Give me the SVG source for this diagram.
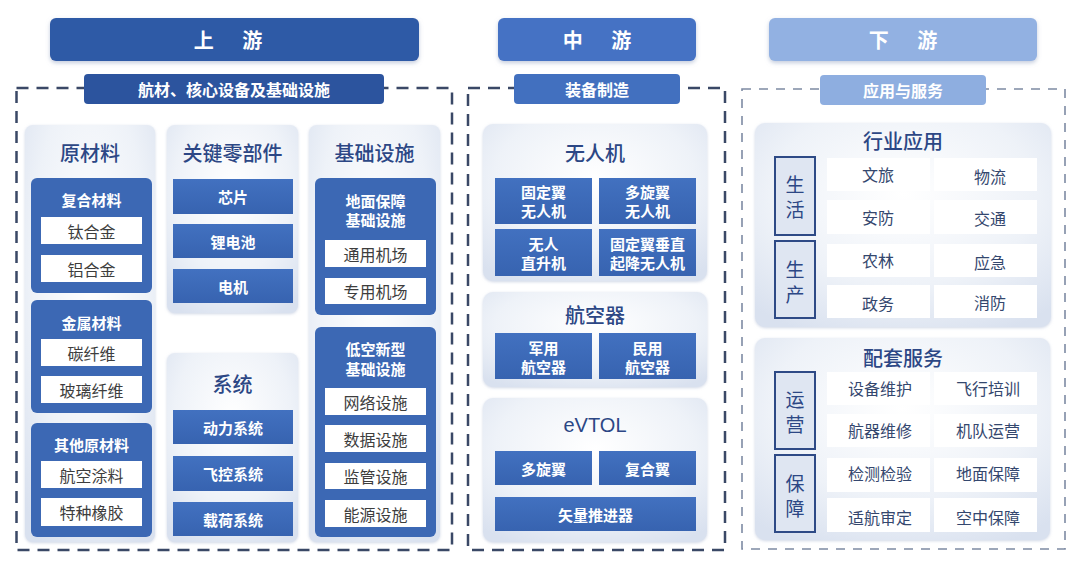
<svg xmlns="http://www.w3.org/2000/svg" width="1080" height="565" viewBox="0 0 1080 565">
<defs>
<radialGradient id="pg" cx="0.5" cy="0.35" r="0.75">
<stop offset="0" stop-color="#ffffff"/>
<stop offset="0.6" stop-color="#eef2f8"/>
<stop offset="1" stop-color="#d9e1ef"/>
</radialGradient>
<linearGradient id="bg" x1="0" y1="0" x2="0" y2="1">
<stop offset="0" stop-color="#4271c0"/>
<stop offset="1" stop-color="#3763b0"/>
</linearGradient>
<filter id="sh" x="-10%" y="-20%" width="120%" height="160%">
<feDropShadow dx="0" dy="2" stdDeviation="2" flood-color="#8899bb" flood-opacity="0.5"/>
</filter>
<filter id="psh" x="-10%" y="-10%" width="120%" height="120%">
<feDropShadow dx="0" dy="1" stdDeviation="1.5" flood-color="#b0bdd6" flood-opacity="0.6"/>
</filter>
</defs>
<style>
text{font-family:"Noto Sans CJK SC","Noto Sans",sans-serif;text-anchor:middle;dominant-baseline:central}
.hd{fill:#fff;font-size:20px;font-weight:700;word-spacing:24px}
.sub{fill:#fff;font-size:16px;font-weight:700}
.panel{fill:url(#pg);filter:url(#psh)}
.pt{fill:#2c4785;font-size:20px;font-weight:500}
.box{fill:#3c68b4}
.bar{fill:url(#bg)}
.wb{fill:#ffffff}
.bt{fill:#fff;font-size:15px;font-weight:700}
.bt2{fill:#fff;font-size:15px;font-weight:700}
.wt{fill:#3d3d3d;font-size:16px}
.lb{fill:#dfe6f2;stroke:#2e4a86;stroke-width:2}
.lt{fill:#2c4785;font-size:19px}
.rt{fill:#34476e;font-size:16px}
.dash{fill:none;stroke:#3a4866;stroke-width:2.5;stroke-dasharray:12 8}
.dash2{fill:none;stroke:#7d8aa3;stroke-width:1.6;stroke-dasharray:9 8}
</style>
<rect width="1080" height="565" fill="#ffffff"/>

<g id="frames">
<rect class="dash" x="16.5" y="88" width="435.5" height="462"/>
<rect class="dash" x="468" y="88" width="257" height="462"/>
<rect class="dash2" x="742" y="89" width="323" height="460"/>
</g>

<g id="connectors"></g>

<g id="hdr-up">
<rect x="50" y="18" width="369" height="43" rx="6" fill="#2f5aa6" filter="url(#sh)"/>
<text class="hd" x="228" y="39.5">上 游</text>
</g>
<g id="hdr-mid">
<rect x="498" y="18" width="198" height="43" rx="6" fill="#4472c4" filter="url(#sh)"/>
<text class="hd" x="597" y="39.5">中 游</text>
</g>
<g id="hdr-down">
<rect x="769" y="18" width="268" height="43" rx="6" fill="#92b1e2" filter="url(#sh)"/>
<text class="hd" x="903" y="39.5">下 游</text>
</g>
<g id="sub-up">
<rect x="84" y="74" width="300" height="30" rx="4" fill="#2c549e"/>
<text class="sub" x="234" y="88.5">航材、核心设备及基础设施</text>
</g>
<g id="sub-mid">
<rect x="514" y="74" width="166" height="30" rx="4" fill="#4270bf"/>
<text class="sub" x="597" y="88.5">装备制造</text>
</g>
<g id="sub-down">
<rect x="820" y="75" width="166" height="30" rx="4" fill="#8eaee0"/>
<text class="sub" x="903" y="89.5">应用与服务</text>
</g>

<g id="raw">
<rect class="panel" x="25" y="125" width="130" height="417" rx="8"/>
<text class="pt" x="90" y="152">原材料</text>
<g id="composite">
<rect class="box" x="31" y="178" width="121" height="115" rx="6"/>
<text class="bt" x="91.5" y="199">复合材料</text>
<rect class="wb" x="41" y="217" width="101" height="27"/>
<text class="wt" x="91.5" y="230.5">钛合金</text>
<rect class="wb" x="41" y="255" width="101" height="27"/>
<text class="wt" x="91.5" y="268.5">铝合金</text>
</g>
<g id="metal">
<rect class="box" x="31" y="300" width="121" height="113" rx="6"/>
<text class="bt" x="91.5" y="322">金属材料</text>
<rect class="wb" x="41" y="339" width="101" height="27"/>
<text class="wt" x="91.5" y="352.5">碳纤维</text>
<rect class="wb" x="41" y="376" width="101" height="27"/>
<text class="wt" x="91.5" y="389.5">玻璃纤维</text>
</g>
<g id="other-raw">
<rect class="box" x="31" y="423" width="121" height="114" rx="6"/>
<text class="bt" x="91.5" y="444">其他原材料</text>
<rect class="wb" x="41" y="461" width="101" height="27"/>
<text class="wt" x="91.5" y="474.5">航空涂料</text>
<rect class="wb" x="41" y="498" width="101" height="28"/>
<text class="wt" x="91.5" y="512">特种橡胶</text>
</g>
</g>

<g id="parts">
<rect class="panel" x="167" y="125" width="131" height="188" rx="8"/>
<text class="pt" x="232.5" y="152">关键零部件</text>
<rect class="bar" x="173" y="179" width="120" height="35"/>
<text class="bt" x="233" y="196.5">芯片</text>
<rect class="bar" x="173" y="224" width="120" height="34"/>
<text class="bt" x="233" y="241">锂电池</text>
<rect class="bar" x="173" y="269" width="120" height="34"/>
<text class="bt" x="233" y="286">电机</text>
</g>

<g id="systems">
<rect class="panel" x="167" y="353" width="131" height="189" rx="8"/>
<text class="pt" x="232.5" y="383">系统</text>
<rect class="bar" x="173" y="410" width="120" height="34"/>
<text class="bt" x="233" y="427">动力系统</text>
<rect class="bar" x="173" y="456" width="120" height="35"/>
<text class="bt" x="233" y="473.5">飞控系统</text>
<rect class="bar" x="173" y="502" width="120" height="34"/>
<text class="bt" x="233" y="519">载荷系统</text>
</g>

<g id="infra">
<rect class="panel" x="309" y="125" width="131" height="417" rx="8"/>
<text class="pt" x="374.5" y="152">基础设施</text>
<g id="ground-infra">
<rect class="box" x="315" y="178" width="121" height="137" rx="6"/>
<text class="bt" x="375.5" y="200">地面保障</text>
<text class="bt" x="375.5" y="219">基础设施</text>
<rect class="wb" x="325" y="240" width="101" height="27"/>
<text class="wt" x="375.5" y="253.5">通用机场</text>
<rect class="wb" x="325" y="278" width="101" height="26"/>
<text class="wt" x="375.5" y="291">专用机场</text>
</g>
<g id="lowalt-infra">
<rect class="box" x="315" y="327" width="121" height="210" rx="6"/>
<text class="bt" x="375.5" y="348">低空新型</text>
<text class="bt" x="375.5" y="368">基础设施</text>
<rect class="wb" x="325" y="388" width="101" height="27"/>
<text class="wt" x="375.5" y="401.5">网络设施</text>
<rect class="wb" x="325" y="425" width="101" height="27"/>
<text class="wt" x="375.5" y="438.5">数据设施</text>
<rect class="wb" x="325" y="463" width="101" height="26"/>
<text class="wt" x="375.5" y="476">监管设施</text>
<rect class="wb" x="325" y="500" width="101" height="27"/>
<text class="wt" x="375.5" y="513.5">能源设施</text>
</g>
</g>

<g id="uav">
<rect class="panel" x="483" y="124" width="224" height="157" rx="10"/>
<text class="pt" x="595" y="152">无人机</text>
<rect class="bar" x="495" y="178" width="97" height="46"/>
<text class="bt2" x="543.5" y="191">固定翼</text>
<text class="bt2" x="543.5" y="210">无人机</text>
<rect class="bar" x="599" y="178" width="97" height="46"/>
<text class="bt2" x="647.5" y="191">多旋翼</text>
<text class="bt2" x="647.5" y="210">无人机</text>
<rect class="bar" x="495" y="229" width="97" height="47"/>
<text class="bt2" x="543.5" y="243">无人</text>
<text class="bt2" x="543.5" y="262">直升机</text>
<rect class="bar" x="599" y="229" width="97" height="47"/>
<text class="bt2" x="647.5" y="243">固定翼垂直</text>
<text class="bt2" x="647.5" y="262">起降无人机</text>
</g>
<g id="aircraft">
<rect class="panel" x="483" y="292" width="224" height="95" rx="10"/>
<text class="pt" x="595" y="314">航空器</text>
<rect class="bar" x="495" y="333" width="97" height="46"/>
<text class="bt2" x="543.5" y="347">军用</text>
<text class="bt2" x="543.5" y="366">航空器</text>
<rect class="bar" x="599" y="333" width="97" height="46"/>
<text class="bt2" x="647.5" y="347">民用</text>
<text class="bt2" x="647.5" y="366">航空器</text>
</g>
<g id="evtol">
<rect class="panel" x="483" y="398" width="224" height="144" rx="10"/>
<text class="pt" x="595" y="425" style="font-family:'Liberation Sans','Noto Sans',sans-serif;font-weight:400">eVTOL</text>
<rect class="bar" x="495" y="451" width="97" height="34"/>
<text class="bt2" x="543.5" y="468">多旋翼</text>
<rect class="bar" x="599" y="451" width="97" height="34"/>
<text class="bt2" x="647.5" y="468">复合翼</text>
<rect class="bar" x="495" y="497" width="201" height="34"/>
<text class="bt2" x="595.5" y="514">矢量推进器</text>
</g>

<g id="industry">
<rect class="panel" x="755" y="123" width="296" height="204" rx="10"/>
<text class="pt" x="903" y="140">行业应用</text>
<rect class="lb" x="775" y="157" width="40" height="78"/>
<text class="lt" x="795" y="183">生</text>
<text class="lt" x="795" y="208">活</text>
<rect class="lb" x="775" y="241" width="40" height="77"/>
<text class="lt" x="795" y="268">生</text>
<text class="lt" x="795" y="293">产</text>
<rect class="wb" x="827" y="158" width="103" height="33"/>
<rect class="wb" x="934" y="158" width="103" height="33"/>
<rect class="wb" x="827" y="200" width="103" height="34"/>
<rect class="wb" x="934" y="200" width="103" height="34"/>
<rect class="wb" x="827" y="244" width="103" height="33"/>
<rect class="wb" x="934" y="244" width="103" height="33"/>
<rect class="wb" x="827" y="285" width="103" height="33"/>
<rect class="wb" x="934" y="285" width="103" height="33"/>
<text class="rt" x="878" y="174">文旅</text>
<text class="rt" x="990" y="176">物流</text>
<text class="rt" x="878" y="217">安防</text>
<text class="rt" x="990" y="218">交通</text>
<text class="rt" x="878" y="260">农林</text>
<text class="rt" x="990" y="262">应急</text>
<text class="rt" x="878" y="303">政务</text>
<text class="rt" x="990" y="302">消防</text>
</g>
<g id="services">
<rect class="panel" x="755" y="338" width="295" height="202" rx="10"/>
<text class="pt" x="903" y="357">配套服务</text>
<rect class="lb" x="775" y="372" width="40" height="77"/>
<text class="lt" x="795" y="398">运</text>
<text class="lt" x="795" y="423">营</text>
<rect class="lb" x="775" y="455" width="40" height="77"/>
<text class="lt" x="795" y="482">保</text>
<text class="lt" x="795" y="507">障</text>
<rect class="wb" x="827" y="372" width="103" height="33"/>
<rect class="wb" x="934" y="372" width="103" height="33"/>
<rect class="wb" x="827" y="414" width="103" height="33"/>
<rect class="wb" x="934" y="414" width="103" height="33"/>
<rect class="wb" x="827" y="458" width="103" height="34"/>
<rect class="wb" x="934" y="458" width="103" height="34"/>
<rect class="wb" x="827" y="498" width="103" height="34"/>
<rect class="wb" x="934" y="498" width="103" height="34"/>
<text class="rt" x="880" y="388">设备维护</text>
<text class="rt" x="988" y="388">飞行培训</text>
<text class="rt" x="880" y="430">航器维修</text>
<text class="rt" x="988" y="430">机队运营</text>
<text class="rt" x="880" y="473">检测检验</text>
<text class="rt" x="988" y="473">地面保障</text>
<text class="rt" x="880" y="517">适航审定</text>
<text class="rt" x="988" y="517">空中保障</text>
</g>
</svg>
